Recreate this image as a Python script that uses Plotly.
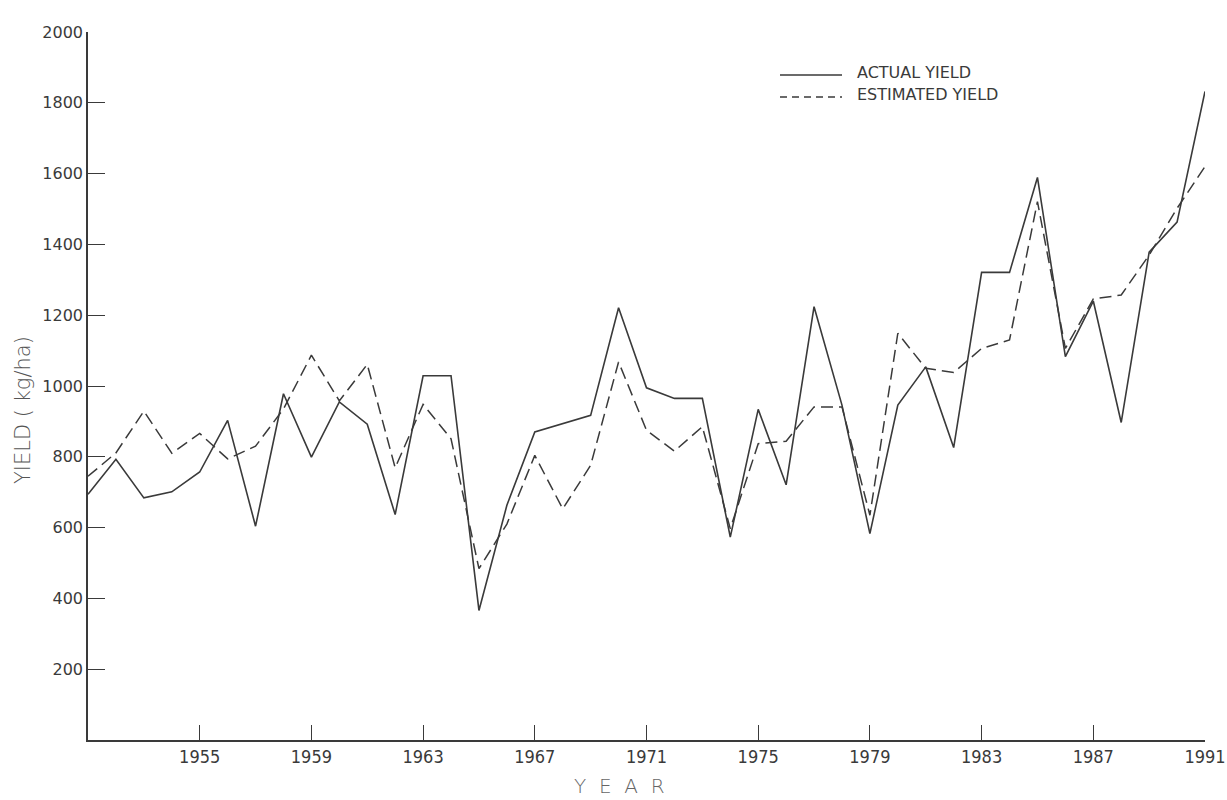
import plotly.graph_objects as go

years = list(range(1951, 1992))

actual_yield = [694, 793, 684, 701, 757, 903, 604, 978, 799, 955,
                892, 637, 1029, 1029, 366, 663, 870, 894, 917, 1221,
                995, 965, 965, 573, 934, 721, 1224, 946, 583, 946,
                1054, 826, 1321, 1321, 1589, 1083, 1240, 897, 1378, 1463,
                1832]

estimated_yield = [745, 811, 929, 810, 866, 794, 830, 935, 1087, 958,
                   1061, 769, 948, 851, 484, 610, 804, 653, 776, 1068,
                   875, 816, 885, 597, 837, 844, 941, 941, 635, 1149,
                   1050, 1038, 1106, 1130, 1521, 1106, 1246, 1257, 1370, 1502,
                   1620]

x_ticks = list(range(1955, 1992, 4))
y_ticks = list(range(200, 2001, 200))

ink = "#3a3a3a"

fig = go.Figure()
fig.add_trace(go.Scatter(x=years, y=actual_yield, mode="lines", name="ACTUAL YIELD",
                         line=dict(color=ink, width=1.6)))
fig.add_trace(go.Scatter(x=years, y=estimated_yield, mode="lines", name="ESTIMATED YIELD",
                         line=dict(color=ink, width=1.5, dash="12px,6px")))

L, R, T, B = 88, 22, 32, 60
W, H = 1227, 800

def px_x(px):
    return (px - L) / (W - L - R)

def px_y(py):
    return (H - B - py) / (H - T - B)

# legend drawn as in the figure
for py, dash, label in [(75, "solid", "ACTUAL YIELD"), (97, "7px,5px", "ESTIMATED YIELD")]:
    fig.add_shape(type="line", xref="paper", yref="paper",
                  x0=px_x(780), x1=px_x(842), y0=px_y(py), y1=px_y(py),
                  line=dict(color=ink, width=1.5, dash=dash))
    fig.add_annotation(xref="paper", yref="paper", x=px_x(855), y=px_y(py - 3),
                       text=label, showarrow=False, xanchor="left", yanchor="middle",
                       font=dict(family="DejaVu Sans, sans-serif", size=16, color=ink))

# axis titles
fig.add_annotation(xref="paper", yref="paper", x=px_x(23), y=px_y(410),
                   text="YIELD ( kg/ha)", textangle=-90, showarrow=False,
                   xanchor="center", yanchor="middle",
                   font=dict(family="DejaVu Sans Light, DejaVu Sans ExtraLight, DejaVu Sans, sans-serif",
                             size=21, color="#555"))
fig.add_annotation(xref="paper", yref="paper", x=px_x(619), y=px_y(786),
                   text="Y\u00a0\u00a0E\u00a0\u00a0A\u00a0\u00a0R", showarrow=False,
                   xanchor="center", yanchor="middle",
                   font=dict(family="DejaVu Sans Light, DejaVu Sans ExtraLight, DejaVu Sans, sans-serif",
                             size=20, color="#666"))

fig.update_layout(
    width=W, height=H,
    margin=dict(l=L, r=R, t=T, b=B, autoexpand=False),
    paper_bgcolor="white", plot_bgcolor="white",
    showlegend=False,
    font=dict(family="DejaVu Sans, sans-serif", color=ink),
)

fig.update_xaxes(
    range=[1951, 1991], tickvals=x_ticks, ticktext=[str(v) for v in x_ticks],
    showline=True, linecolor=ink, linewidth=1.5, showgrid=False, zeroline=False,
    ticks="inside", ticklen=15, tickwidth=1.2, tickcolor=ink,
    ticklabeloverflow="allow", automargin=False,
    tickfont=dict(size=18, color=ink, family="Liberation Sans Narrow, DejaVu Sans Condensed, sans-serif"),
)
fig.update_yaxes(
    range=[0, 2000], tickvals=y_ticks, ticktext=[str(v) for v in y_ticks],
    showline=True, linecolor=ink, linewidth=1.5, showgrid=False, zeroline=False,
    ticks="inside", ticklen=17, tickwidth=1.2, tickcolor=ink,
    ticklabeloverflow="allow", automargin=False,
    tickfont=dict(size=16, color=ink, family="DejaVu Sans, sans-serif"),
)

fig.write_html("out.html", config={"displayModeBar": False},
               post_script="document.body.style.margin='0';")
